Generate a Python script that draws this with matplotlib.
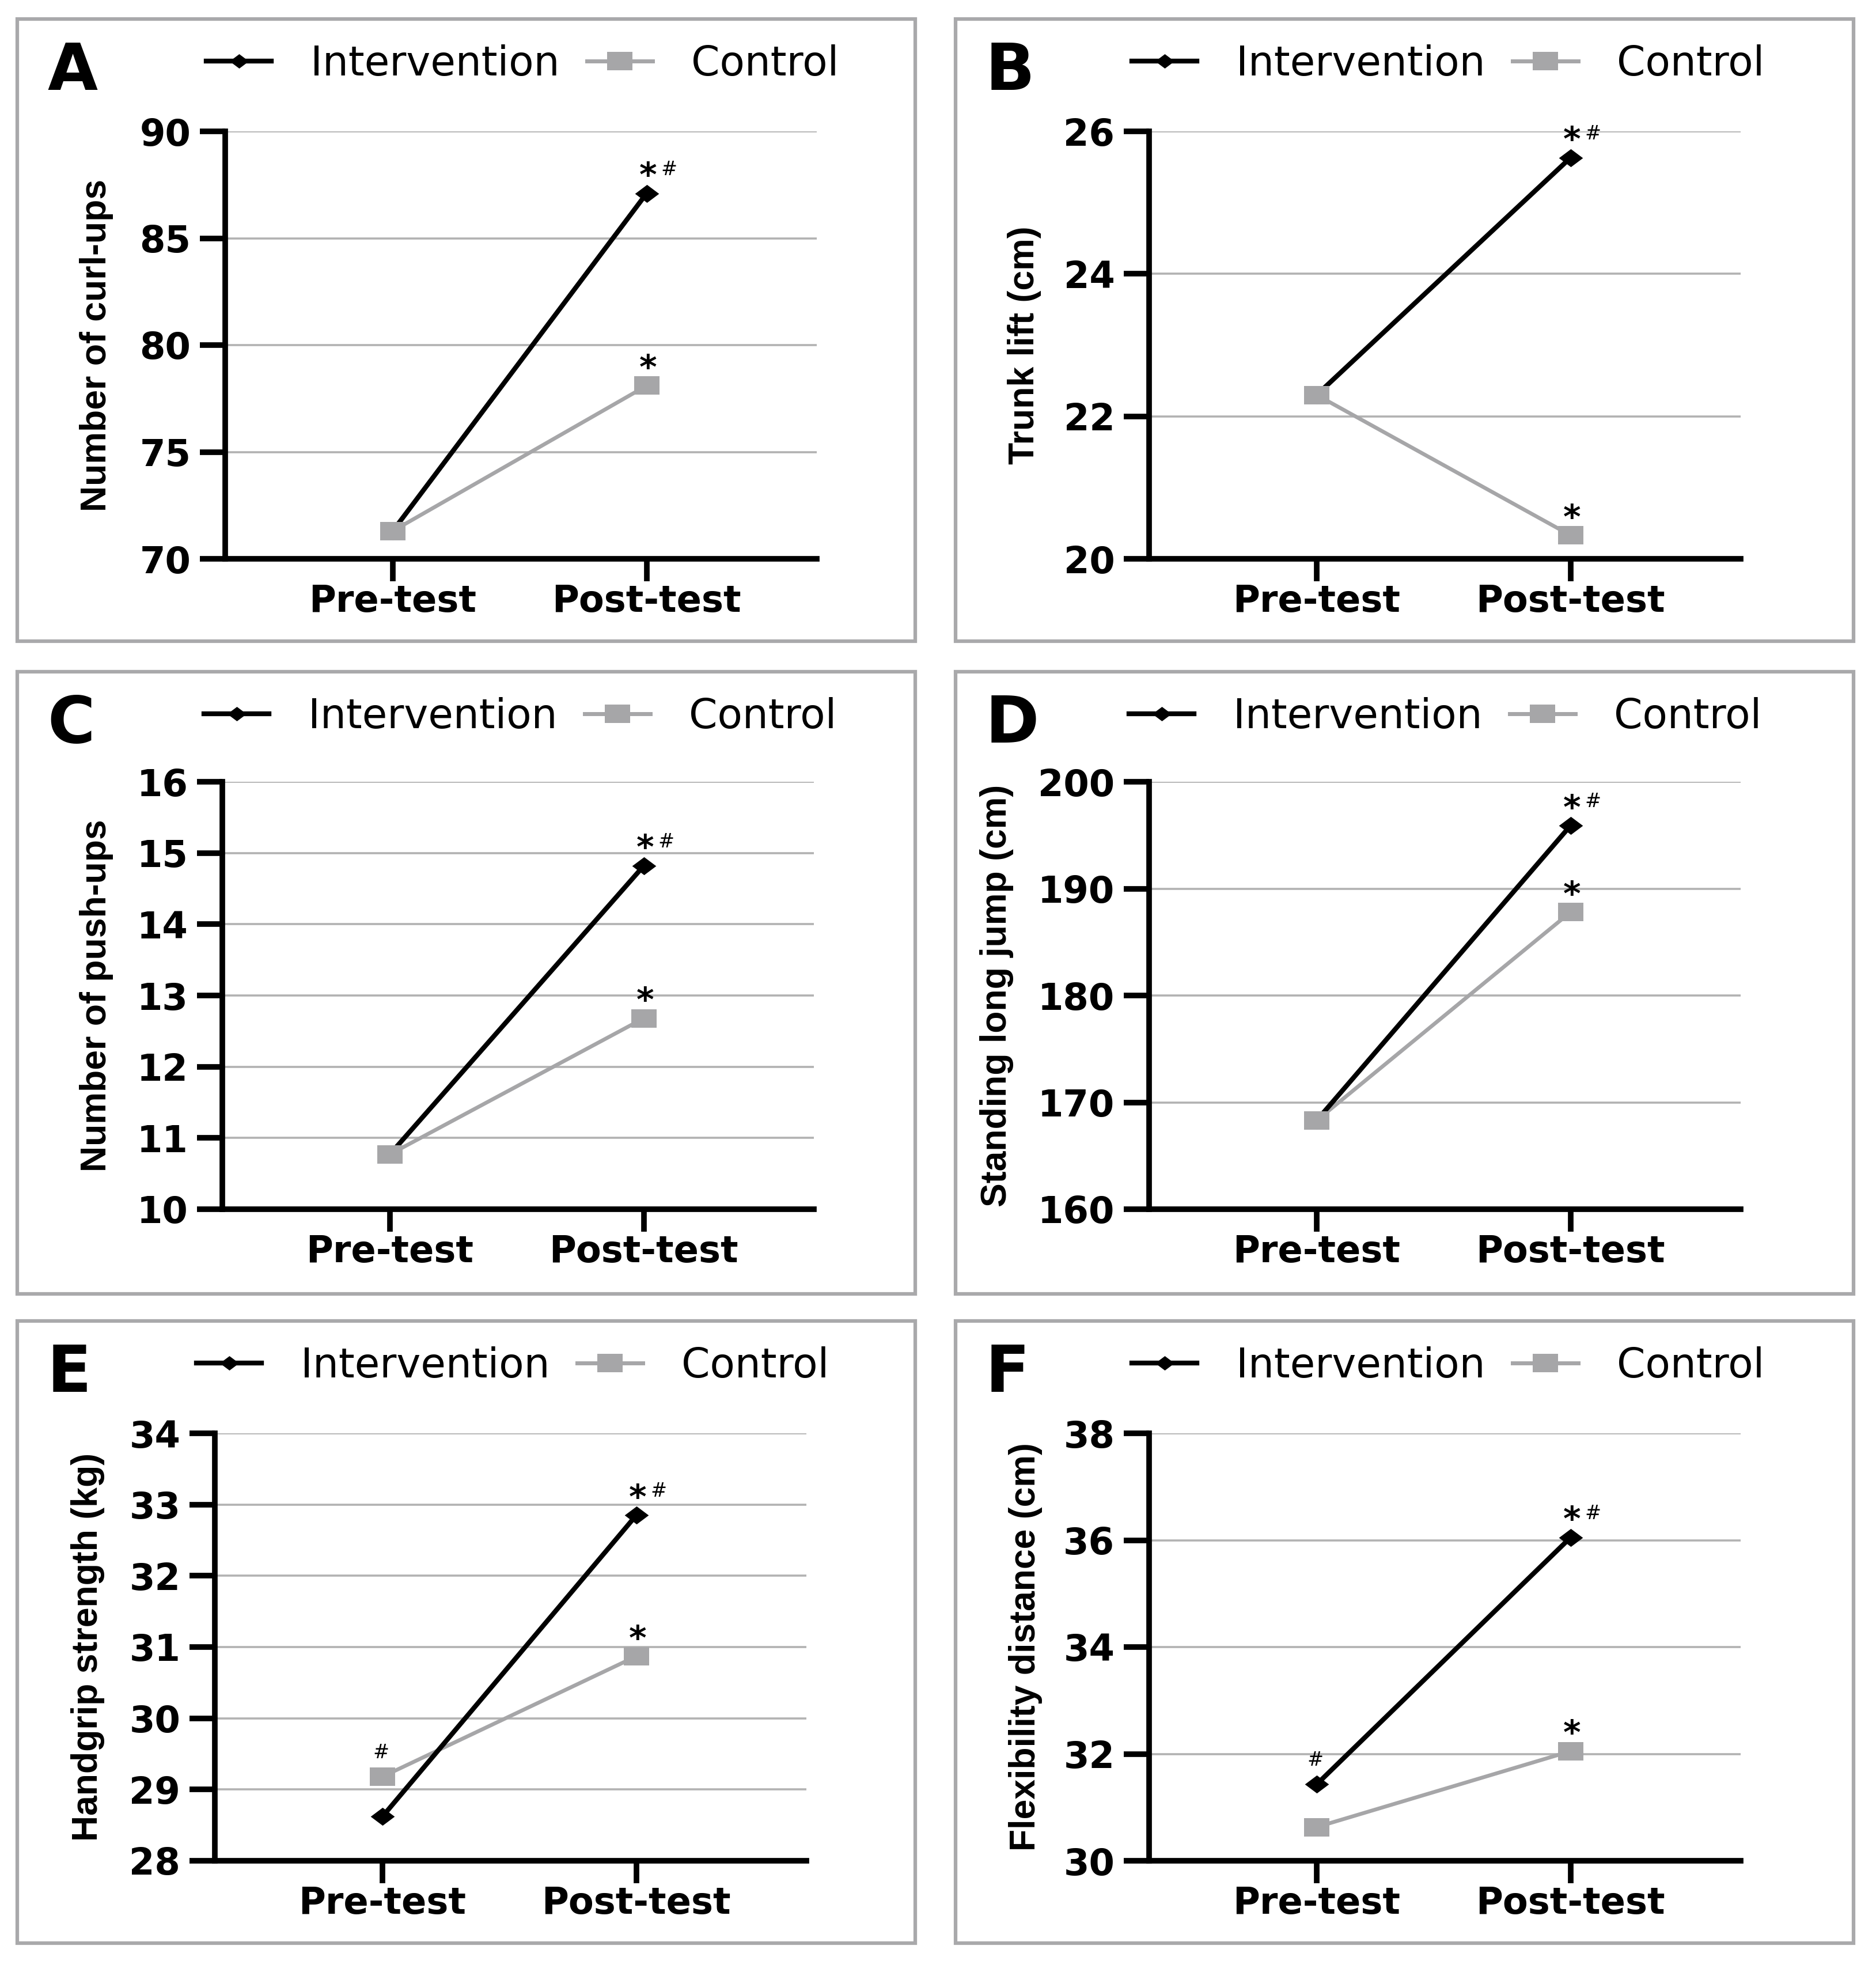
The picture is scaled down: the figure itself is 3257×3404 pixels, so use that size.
#!/usr/bin/env python

import numpy as np
import matplotlib
matplotlib.use('Agg')
import matplotlib.pyplot as plt
from matplotlib.lines import Line2D
from matplotlib.patches import Rectangle
from matplotlib import font_manager as fm

mpl = matplotlib
mpl.rcParams['font.family'] = 'DejaVu Sans'

# ---- data ----
categories = ['Pre-test', 'Post-test']
groups = ['Intervention', 'Control']
letters = ['A', 'B', 'C', 'D', 'E', 'F']
ylabels = ['Number of curl-ups', 'Trunk lift (cm)', 'Number of push-ups',
           'Standing long jump (cm)', 'Handgrip strength (kg)',
           'Flexibility distance (cm)']

curlups_int = [71.3, 87.1]
curlups_ctl = [71.3, 78.1]
trunk_int = [22.3, 25.63]
trunk_ctl = [22.3, 20.33]
pushups_int = [10.77, 14.82]
pushups_ctl = [10.77, 12.68]
jump_int = [168.3, 195.9]
jump_ctl = [168.3, 187.8]
grip_int = [28.62, 32.85]
grip_ctl = [29.18, 30.87]
flex_int = [31.43, 36.05]
flex_ctl = [30.63, 32.05]

intervention = [curlups_int, trunk_int, pushups_int, jump_int, grip_int, flex_int]
control = [curlups_ctl, trunk_ctl, pushups_ctl, jump_ctl, grip_ctl, flex_ctl]

yticks = [[70, 75, 80, 85, 90], [20, 22, 24, 26], [10, 11, 12, 13, 14, 15, 16],
          [160, 170, 180, 190, 200], [28, 29, 30, 31, 32, 33, 34],
          [30, 32, 34, 36, 38]]

# (panel, group, point, marks)
marks = [(0, 0, 1, '*#'), (0, 1, 1, '*'),
         (1, 0, 1, '*#'), (1, 1, 1, '*'),
         (2, 0, 1, '*#'), (2, 1, 1, '*'),
         (3, 0, 1, '*#'), (3, 1, 1, '*'),
         (4, 0, 1, '*#'), (4, 1, 1, '*'), (4, 1, 0, '#'),
         (5, 0, 1, '*#'), (5, 1, 1, '*'), (5, 0, 0, '#')]

# ---- layout (pixels) ----
W, H = 3257, 3404
DPI = 100
box_x = [30, 1659]
box_y = [33, 1166, 2293]
box_w, box_h = 1559, 1080
ax_left = [391, 1995, 386, 1995, 373, 1995]
ax_w = 1027
ax_top = [228, 228, 1357, 1357, 2488, 2488]
ax_h = 742
ylab_x = [-0.218, -0.211, -0.213, -0.258, -0.215, -0.209]
leg_x = [358, 1965, 354, 1960, 341, 1965]

black = '#000000'
gray = '#a6a6a8'
grid_c = '#b2b2b2'
box_c = '#a9a9ab'

names = {f.name for f in fm.fontManager.ttflist}
if 'Liberation Sans Narrow' in names:
    ylab_font, ylab_size = 'Liberation Sans Narrow', 54
elif 'Liberation Sans' in names:
    ylab_font, ylab_size = 'Liberation Sans', 45
else:
    ylab_font, ylab_size = 'DejaVu Sans', 37

diamond = [(-1, 0), (0, 0.75), (1, 0), (0, -0.75), (-1, 0)]
square = [(-1, -0.74), (1, -0.74), (1, 0.74), (-1, 0.74), (-1, -0.74)]

fig = plt.figure(figsize=(W / DPI, H / DPI), dpi=DPI)

x = np.arange(len(categories))
for i in range(6):
    r, c = i // 2, i % 2
    fig.patches.append(Rectangle((box_x[c] / W, 1 - (box_y[r] + box_h) / H),
                                 box_w / W, box_h / H, transform=fig.transFigure,
                                 fill=False, edgecolor=box_c, linewidth=4.5))
    ax = fig.add_axes([ax_left[i] / W, 1 - (ax_top[i] + ax_h) / H, ax_w / W, ax_h / H])
    ax.plot(x, control[i], color=gray, lw=4.8, zorder=2, solid_capstyle='butt')
    ax.plot(x, intervention[i], color=black, lw=6, zorder=3, solid_capstyle='butt')
    ax.plot(x, intervention[i], ls='none', marker=diamond, ms=30, color=black,
            mew=0, zorder=4)
    ax.plot(x, control[i], ls='none', marker=square, ms=31, color=gray,
            mew=0, zorder=5)

    yt = yticks[i]
    ax.set_ylim(yt[0], yt[-1])
    ax.set_yticks(yt)
    ax.set_xlim(-0.66, 1.67)
    ax.set_xticks(x)
    ax.set_xticklabels(categories)
    for y in yt[1:]:
        ax.axhline(y, color=grid_c, lw=2.6, zorder=1)
    for s in ['top', 'right']:
        ax.spines[s].set_visible(False)
    for s in ['left', 'bottom']:
        ax.spines[s].set_linewidth(7)
        ax.spines[s].set_capstyle('projecting')
    ax.tick_params(axis='y', length=32, width=7, pad=11, labelsize=46)
    ax.tick_params(axis='x', length=28, width=7, pad=3, labelsize=46)
    for lab in ax.get_xticklabels() + ax.get_yticklabels():
        lab.set_fontweight('bold')
    ax.set_ylabel(ylabels[i], family=ylab_font, fontsize=ylab_size,
                  fontweight='bold', va='center')
    ax.yaxis.set_label_coords(ylab_x[i], 0.5)

    # significance marks
    for p, g, k, txt in marks:
        if p != i:
            continue
        yv = (intervention if g == 0 else control)[i][k]
        if '*' in txt:
            ax.annotate('*', (x[k], yv), xytext=(2, 9), textcoords='offset points',
                        ha='center', va='baseline', fontsize=42, fontweight='bold',
                        annotation_clip=False, zorder=6)
            if '#' in txt:
                ax.annotate('#', (x[k], yv), xytext=(28, 23), textcoords='offset points',
                            ha='center', va='baseline', fontsize=24,
                            annotation_clip=False, zorder=6)
        else:
            ax.annotate('#', (x[k], yv), xytext=(-2, 23), textcoords='offset points',
                        ha='center', va='baseline', fontsize=24,
                        annotation_clip=False, zorder=6)

    # legend
    handles = [Line2D([], [], color=black, lw=6, marker=diamond, ms=24, mew=0),
               Line2D([], [], color=gray, lw=5, marker=square, ms=31, mew=0)]
    ax.legend(handles, groups, loc='center left',
              bbox_to_anchor=(leg_x[i] / W, 1 - (box_y[r] + 78) / H),
              bbox_transform=fig.transFigure, ncol=2, frameon=False,
              borderpad=0, borderaxespad=0, handlelength=1.6,
              handletextpad=0.95, columnspacing=0.68, fontsize=51)

    # panel letter
    fig.text((box_x[c] + 52) / W, 1 - (box_y[r] + 123) / H, letters[i],
             fontsize=81, fontweight='bold', ha='left', va='baseline')

fig.savefig('out.png', dpi=DPI)
